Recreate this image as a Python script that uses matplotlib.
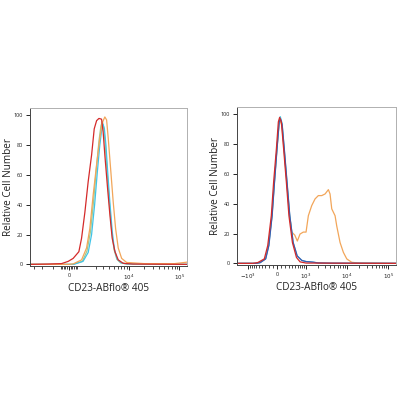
import numpy as np
import matplotlib
matplotlib.use('Agg')
import matplotlib.pyplot as plt

# ---- data (x in fluorescence units, y in % of max) ----
# left panel
left_red_x = [-3700, -1500, -441, -41, 256, 614, 795, 1036, 1297, 1602, 1859, 2116, 2394,
              2734, 2960, 3220, 3680, 4120, 4590, 5230, 6090, 7670, 12000, 141000]
left_red_y = [0, 0.2, 0.5, 2, 4, 8.5, 17.5, 35, 55.5, 73.5, 91, 96.5, 98,
              97.5, 89, 73.5, 51, 33, 17.5, 8.5, 3, 0.7, 0.2, 0]
left_green_x = [-3700, 200, 850, 1200, 1500, 1800, 2100, 2400, 2650, 2850, 3050, 3300, 3600,
                4000, 4500, 5000, 5700, 6800, 9000, 141000]
left_green_y = [0, 0, 2, 9, 22, 43, 65, 83, 93, 96, 92, 80, 62,
                42, 22, 10, 3.5, 1, 0.3, 0]
left_cyan_x = [-3700, 300, 900, 1300, 1600, 1900, 2200, 2500, 2750, 2950, 3150, 3400, 3700,
               4100, 4600, 5100, 5800, 7000, 9000, 141000]
left_cyan_y = [0, 0, 2, 8, 20, 40, 62, 80, 90, 94, 91, 80, 62,
               42, 22, 10, 3.5, 1, 0.3, 0]
left_orange_x = [-3700, 0, 256, 795, 1166, 1438, 1751, 2116, 2509, 2828, 3220, 3510, 3790,
                 4310, 4810, 5390, 6090, 7140, 8980, 20000, 80000, 120000, 141000]
left_orange_y = [0, 0, 0.3, 3, 11, 24, 46.5, 67, 85, 95, 99, 97, 85,
                 62, 42, 24, 11, 4, 1.3, 0.5, 0.5, 1.2, 1.5]

# right panel
right_red_x = [-1900, -750, -540, -320, -225, -135, -80, -15, 30, 60, 100, 155, 225,
               295, 400, 540, 690, 1000, 153000]
right_red_y = [0, 0, 0.5, 3, 12, 32, 54.5, 77, 95, 98, 95, 77, 54.5,
               32, 14, 4, 1, 0.2, 0]
right_blue_x = [-1900, -600, -450, -280, -195, -115, -60, 0, 50, 80, 120, 175, 245,
                320, 425, 570, 770, 1000, 1270, 1510, 2000, 4000, 153000]
right_blue_y = [0, 0, 0.5, 3, 12, 32, 54, 77, 95, 97, 93, 76, 54,
                32, 14, 5, 2, 1.2, 1, 0.8, 0.3, 0.1, 0]
right_cyan_x = [-1900, -600, -455, -285, -200, -118, -62, -3, 48, 75, 118, 172, 242,
                318, 422, 565, 765, 1000, 1270, 1510, 2000, 4000, 153000]
right_cyan_y = [0, 0, 0.5, 3, 12, 32, 54, 77, 95, 98.5, 94, 76, 54,
                32, 14, 5, 2, 1.2, 1, 0.8, 0.3, 0.1, 0]
right_orange_x = [-1900, -600, -460, -290, -205, -120, -65, -2, 45, 80, 115, 170, 240,
                  310, 380, 478, 575, 688, 846, 1000, 1147, 1397, 1693, 2039, 2469, 2977,
                  3582, 3932, 4324, 5200, 5717, 6868, 8252, 9966, 13136, 20000, 153000]
right_orange_y = [0, 0, 0.5, 3, 12, 32, 54, 77, 93, 96, 92, 75, 53,
                  33, 21, 19, 15, 19.7, 21, 21, 32, 38.8, 43.3, 45.5, 45.5, 46.6,
                  49.5, 46.6, 36.6, 32, 25, 14, 7.4, 3, 0.7, 0.2, 0]

xlabel = 'CD23-ABflo\u00ae 405'
ylabel = 'Relative Cell Number'

RED = '#d42a2a'
GREEN = '#a3c98e'
CYAN = '#3fc4e8'
BLUE = '#3a5cb0'
ORANGE = '#f2a65a'

plt.rcParams['font.family'] = ['Open Sans', 'DejaVu Sans']


def asinh_funcs(c):
    fwd = lambda x: np.arcsinh(np.asarray(x, dtype=float) / c) / np.log(10)
    inv = lambda d: c * np.sinh(np.asarray(d, dtype=float) * np.log(10))
    return fwd, inv


def style_axes(ax, c, xlim, majors, labels, minors, ylab_x):
    ax.set_xscale('function', functions=asinh_funcs(c))
    ax.set_xlim(*xlim)
    ax.set_ylim(-1.1, 105)
    ax.set_xticks(majors)
    ax.set_xticklabels(labels)
    ax.set_xticks(minors, minor=True)
    ax.set_yticks([0, 20, 40, 60, 80, 100])
    ax.tick_params(axis='both', which='major', labelsize=4, length=3, width=0.6, pad=2,
                   labelcolor='#222222')
    ax.tick_params(axis='x', which='minor', length=1.8, width=0.5)
    for s in ['top', 'right']:
        ax.spines[s].set_color('#b0b0b0')
        ax.spines[s].set_linewidth(0.7)
    for s in ['left', 'bottom']:
        ax.spines[s].set_color('#444444')
        ax.spines[s].set_linewidth(0.7)
    ax.set_xlabel(xlabel, fontsize=7.2, color='#222222')
    ax.set_ylabel(ylabel, fontsize=7.2, color='#222222')
    ax.xaxis.set_label_coords(0.5, -0.108)
    ax.yaxis.set_label_coords(ylab_x, 0.5)


fig = plt.figure(figsize=(4, 4), dpi=100)
ax1 = fig.add_axes([0.075, 0.335, 0.3925, 0.395])
ax2 = fig.add_axes([0.5925, 0.3375, 0.3975, 0.395])

lw = 0.9
ax1.plot(left_green_x, left_green_y, color=GREEN, lw=lw)
ax1.plot(left_cyan_x, left_cyan_y, color=CYAN, lw=lw)
ax1.plot(left_orange_x, left_orange_y, color=ORANGE, lw=lw)
ax1.plot(left_red_x, left_red_y, color=RED, lw=lw)

ax2.plot(right_orange_x, right_orange_y, color=ORANGE, lw=lw)
ax2.plot(right_cyan_x, right_cyan_y, color=CYAN, lw=lw)
ax2.plot(right_blue_x, right_blue_y, color=BLUE, lw=lw)
ax2.plot(right_red_x, right_red_y, color=RED, lw=lw)

left_minors = ([-3000, -2000, -1000] + list(range(-500, 501, 100)) +
               [k * 1000 for k in range(2, 10)] + [k * 10000 for k in range(2, 10)])
style_axes(ax1, 1300, (-3700, 141000), [0, 1e4, 1e5],
           ['0', r'$10^4$', r'$10^5$'], left_minors, -0.099)

right_minors = (list(range(-900, 901, 100)) + [k * 1000 for k in range(2, 10)] +
                [k * 10000 for k in range(2, 10)])
style_axes(ax2, 417, (-1900, 153000), [-1e3, 0, 1e3, 1e4, 1e5],
           [r'$-10^3$', '0', r'$10^3$', r'$10^4$', r'$10^5$'], right_minors, -0.10)

fig.savefig('out.png', dpi=100)
